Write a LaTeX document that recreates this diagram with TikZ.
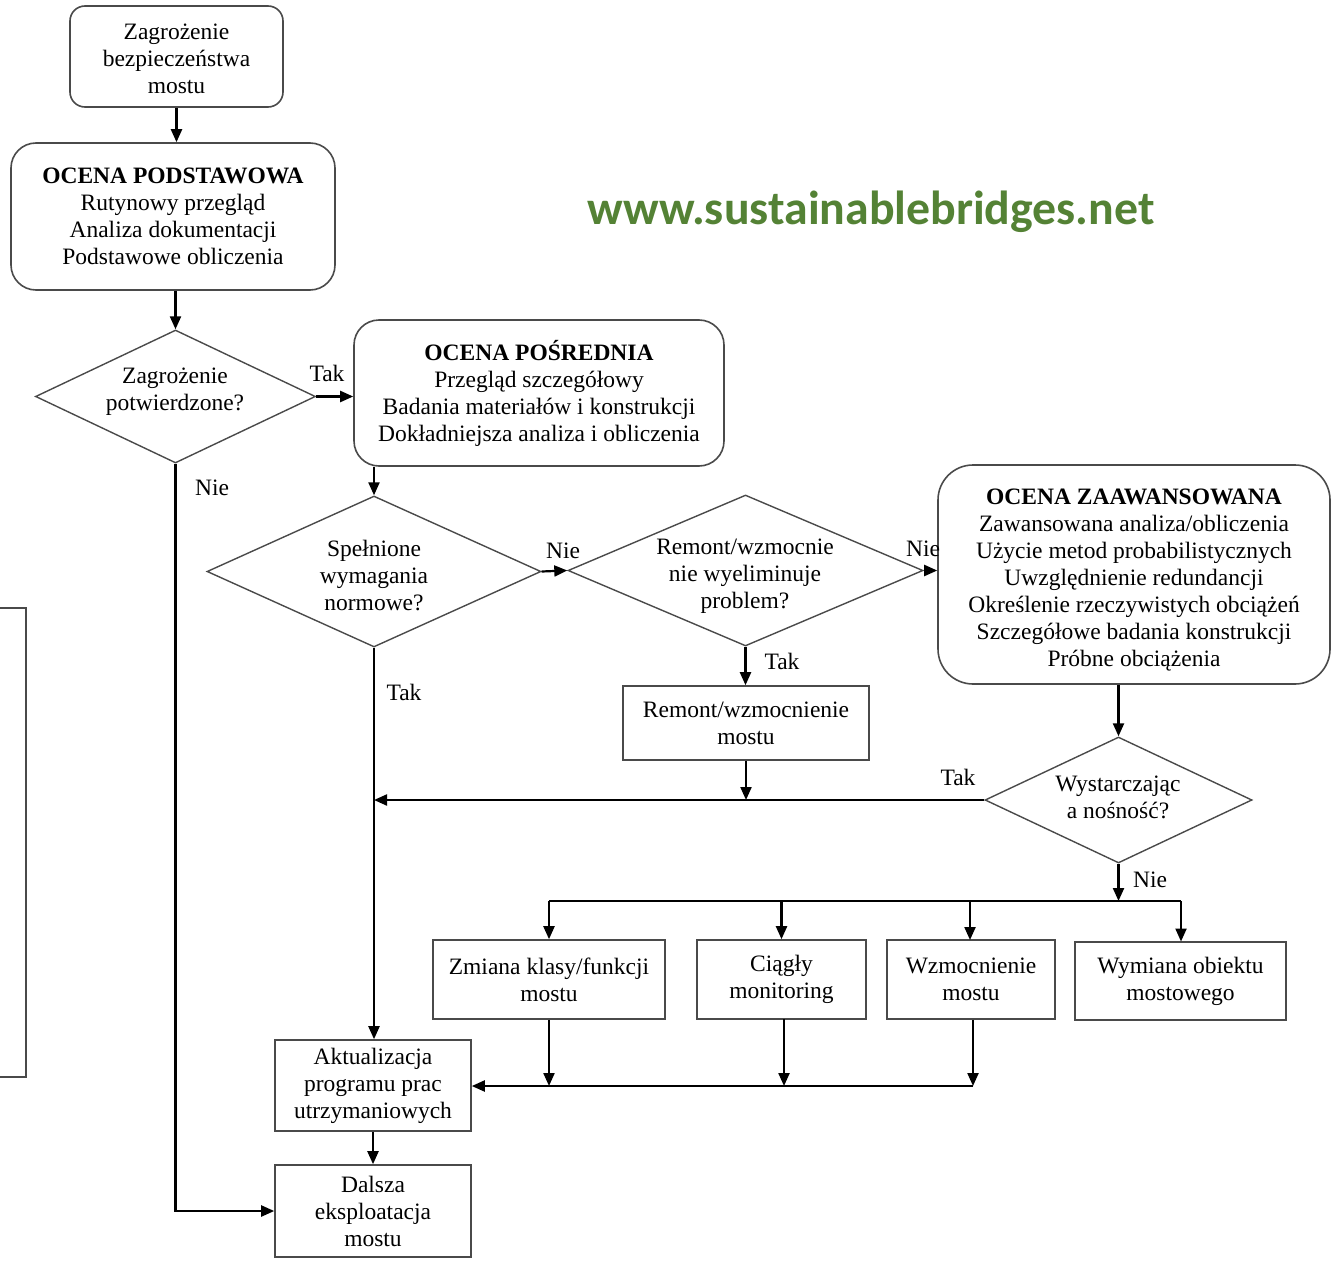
\documentclass[tikz,border=0pt]{standalone}
\usepackage{fontspec}
\setmainfont{Liberation Serif}
\newfontfamily\webfont{Carlito}
\usetikzlibrary{arrows.meta,shapes.geometric}
\definecolor{webgreen}{HTML}{548235}
\definecolor{bord}{HTML}{4A4A4A}
\tikzset{
  txt/.style={font=\fontsize{23.5}{27}\selectfont, align=center, inner sep=0pt},
  rbox/.style={txt, draw=bord, line width=1.6pt, rounded corners=#1, fill=white},
  rbox/.default=20pt,
  sbox/.style={txt, draw=bord, line width=1.6pt, fill=white},
  dia/.style={diamond, draw=bord, line width=1.4pt, inner sep=0pt},
  conn/.style={line width=2.2pt, black},
  arr/.style={conn, -{Triangle[length=13pt,width=11pt]}},
  lbl/.style={font=\fontsize{23.5}{27}\selectfont, inner sep=0pt},
}
\begin{document}
\begin{tikzpicture}[x=1pt,y=-1pt]
\useasboundingbox (0,0) rectangle (1332,1268);
\fill[white] (0,0) rectangle (1332,1268);

% nodes
\node[rbox=15pt, minimum width=213pt, minimum height=101pt] (start) at (176.5,56.5) {\rule{0pt}{20pt}Zagrożenie\\bezpieczeństwa\\mostu};
\node[rbox=25pt, minimum width=324pt, minimum height=147pt] (podst) at (173,216.5) {\textbf{OCENA PODSTAWOWA}\\Rutynowy przegląd\\Analiza dokumentacji\\Podstawowe obliczenia};
\node[dia, minimum width=280pt, minimum height=133pt] (d1) at (175.5,396.5) {};
\node[txt] (d1t) at (175,392) {Zagrożenie\\potwierdzone?};
\node[rbox=25pt, minimum width=370pt, minimum height=146pt] (posr) at (539,393) {\textbf{OCENA POŚREDNIA}\\Przegląd szczegółowy\\Badania materiałów i konstrukcji\\Dokładniejsza analiza i obliczenia};
\node[dia, minimum width=334pt, minimum height=151pt] (d2) at (374,571.5) {};
\node[txt] (d2t) at (374,576) {Spełnione\\wymagania\\normowe?};
\node[dia, minimum width=355pt, minimum height=151pt] (d3) at (745.5,570.5) {};
\node[txt] (d3t) at (745,576) {Remont/wzmocnie\\nie wyeliminuje\\problem?};
\node[rbox=35pt, minimum width=392pt, minimum height=219pt] (zaaw) at (1134,574.5) {};
\node[txt] (zaawt) at (1134,580) {\textbf{OCENA ZAAWANSOWANA}\\Zawansowana analiza/obliczenia\\Użycie metod probabilistycznych\\Uwzględnienie redundancji\\Określenie rzeczywistych obciążeń\\Szczegółowe badania konstrukcji\\Próbne obciążenia};
\node[sbox, minimum width=246pt, minimum height=74pt] (remont) at (746,723) {Remont/wzmocnienie\\mostu};
\node[dia, minimum width=267pt, minimum height=126pt] (d4) at (1118.5,800) {};
\node[txt] (d4t) at (1118,797) {Wystarczając\\a nośność?};
\node[sbox, minimum width=232pt, minimum height=79pt] (zmiana) at (549,979.5) {Zmiana klasy/funkcji\\mostu};
\node[sbox, minimum width=169pt, minimum height=79pt] (ciagly) at (781.5,979.5) {Ciągły\\monitoring};
\node[sbox, minimum width=168pt, minimum height=79pt] (wzmoc) at (971,979.5) {Wzmocnienie\\mostu};
\node[sbox, minimum width=211pt, minimum height=78pt] (wymiana) at (1180.5,981) {Wymiana obiektu\\mostowego};
\node[sbox, minimum width=196pt, minimum height=91pt] (aktual) at (373,1085.5) {Aktualizacja\\programu prac\\utrzymaniowych};
\node[sbox, minimum width=196pt, minimum height=92pt] (dalsza) at (373,1211) {Dalsza\\eksploatacja\\mostu};

\node[font=\webfont\bfseries\fontsize{47.8}{52}\selectfont, text=webgreen, inner sep=0pt] (web) at (871,212) {www.sustainablebridges.net};

% junction coordinates
\coordinate (j2) at (374,800);
\coordinate (j3) at (1118.5,901);
\coordinate (j4) at (973,1086);

% connectors
\draw[arr] (start.south) -- (start.south |- podst.north);
\draw[arr] (d1.north |- podst.south) -- (d1.north);
\draw[arr] (d1.east) -- (d1.east -| posr.west);
\draw[arr] (d1.south) |- (dalsza.west);
\draw[arr] (d2.north |- posr.south) -- (d2.north);
\draw[arr] (d2.east) -- (d3.west);
\draw[arr] (d3.east) -- (d3.east -| zaaw.west);
\draw[arr] (d3.south) -- (d3.south |- remont.north);
\draw[arr] (remont.south) -- (remont.south |- j2);
\draw[arr] (d2.south) -- (d2.south |- aktual.north);
\draw[arr] (d4.west) -- (j2);
\draw[arr] (d4.north |- zaaw.south) -- (d4.north);
\draw[arr] (d4.south) -- (j3);
\draw[conn] (zmiana.north |- j3) -- (1181,901);
\draw[arr] (zmiana.north |- j3) -- (zmiana.north);
\draw[arr] (ciagly.north |- j3) -- (ciagly.north);
\draw[arr] (970,901) -- (970,940);
\draw[arr] (1181,901) -- (1181,941.5);
\draw[arr] (zmiana.south) -- (zmiana.south |- j4);
\draw[arr] (784,1019) -- (784,1086);
\draw[arr] (wzmoc.south -| j4) -- (j4);
\draw[arr] (j4) -- (aktual.east |- j4);
\draw[arr] (aktual.south) -- (dalsza.north);

% labels
\node[lbl] (l1) at (327,373) {Tak};
\node[lbl] (l2) at (212,488) {Nie};
\node[lbl] (l3) at (563,551) {Nie};
\node[lbl] (l4) at (923,549) {Nie};
\node[lbl] (l5) at (782,661) {Tak};
\node[lbl] (l6) at (404,692) {Tak};
\node[lbl] (l7) at (958,777) {Tak};
\node[lbl] (l8) at (1150,880) {Nie};

% partial frame at left edge
\draw[bord, line width=1.5pt] (0,608) -- (26,608) -- (26,1077) -- (0,1077);
\end{tikzpicture}
\end{document}
